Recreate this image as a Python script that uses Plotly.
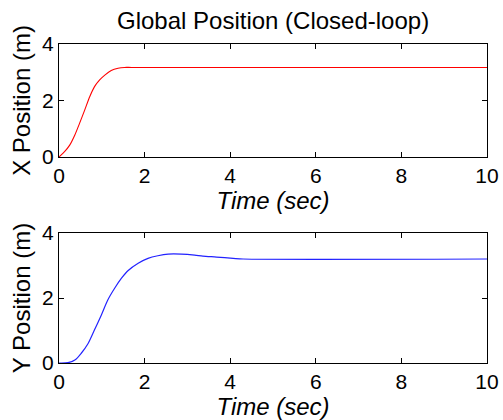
import plotly.graph_objects as go
from plotly.subplots import make_subplots

# X position (closed-loop) samples
t_x = [0, 0.13, 0.25, 0.37, 0.48, 0.6, 0.72, 0.83, 0.95, 1.07, 1.22, 1.38, 1.53, 1.7, 10]
x_pos = [0, 0.19, 0.42, 0.78, 1.19, 1.66, 2.14, 2.49, 2.73, 2.9, 3.06, 3.14, 3.17, 3.17, 3.17]

# Y position (closed-loop) samples
t_y = [0, 0.21, 0.37, 0.52, 0.68, 0.83, 0.99, 1.14, 1.3, 1.46, 1.61, 1.85, 2.08,
       2.31, 2.55, 2.86, 3.17, 3.36, 3.68, 4.07, 4.3, 10]
y_pos = [0, 0.01, 0.09, 0.3, 0.6, 1.02, 1.48, 1.94, 2.3, 2.61, 2.84, 3.07, 3.22,
         3.3, 3.35, 3.35, 3.32, 3.29, 3.26, 3.22, 3.2, 3.2]

x_ticks = [0, 2, 4, 6, 8, 10]
y_ticks = [0, 2, 4]

FONT = "Liberation Sans, Arial, Helvetica, sans-serif"

fig = make_subplots(rows=2, cols=1, vertical_spacing=0.238)
fig.add_trace(go.Scatter(x=t_x, y=x_pos, mode="lines", line=dict(color="#ff0000", width=1.1, shape="spline", smoothing=0.8),
                         showlegend=False), row=1, col=1)
fig.add_trace(go.Scatter(x=t_y, y=y_pos, mode="lines", line=dict(color="#2222ff", width=1.2, shape="spline", smoothing=0.8),
                         showlegend=False), row=2, col=1)

axis_common = dict(showline=True, linecolor="black", linewidth=1, mirror="ticks",
                   ticks="inside", ticklen=5, tickcolor="black", showgrid=False, zeroline=False,
                   tickfont=dict(family=FONT, size=21, color="black"))

for r, label in [(1, "X Position (m)"), (2, "Y Position (m)")]:
    fig.update_xaxes(range=[0, 10], tickvals=x_ticks, row=r, col=1,
                     title=dict(text="<i>Time (sec)</i>", font=dict(family=FONT, size=24, color="black"), standoff=0),
                     **axis_common)
    fig.update_yaxes(range=[0, 4], tickvals=y_ticks, row=r, col=1,
                     title=dict(text=label, font=dict(family=FONT, size=24, color="black"), standoff=4),
                     **axis_common)

fig.update_layout(
    width=503, height=420,
    margin=dict(l=59, r=16, t=44, b=57, autoexpand=False),
    paper_bgcolor="white", plot_bgcolor="white",
    title=dict(text="Global Position (Closed-loop)", x=0.5429, xanchor="center",
               y=0.952, yanchor="middle", yref="container",
               font=dict(family=FONT, size=24, color="black")),
)
fig.layout.yaxis.domain = [0.6458, 1.0]
fig.layout.yaxis2.domain = [0.0, 0.4075]

fig.write_html("out.html", config={"displayModeBar": False},
               post_script="document.body.style.margin='0';document.body.style.padding='0';")
